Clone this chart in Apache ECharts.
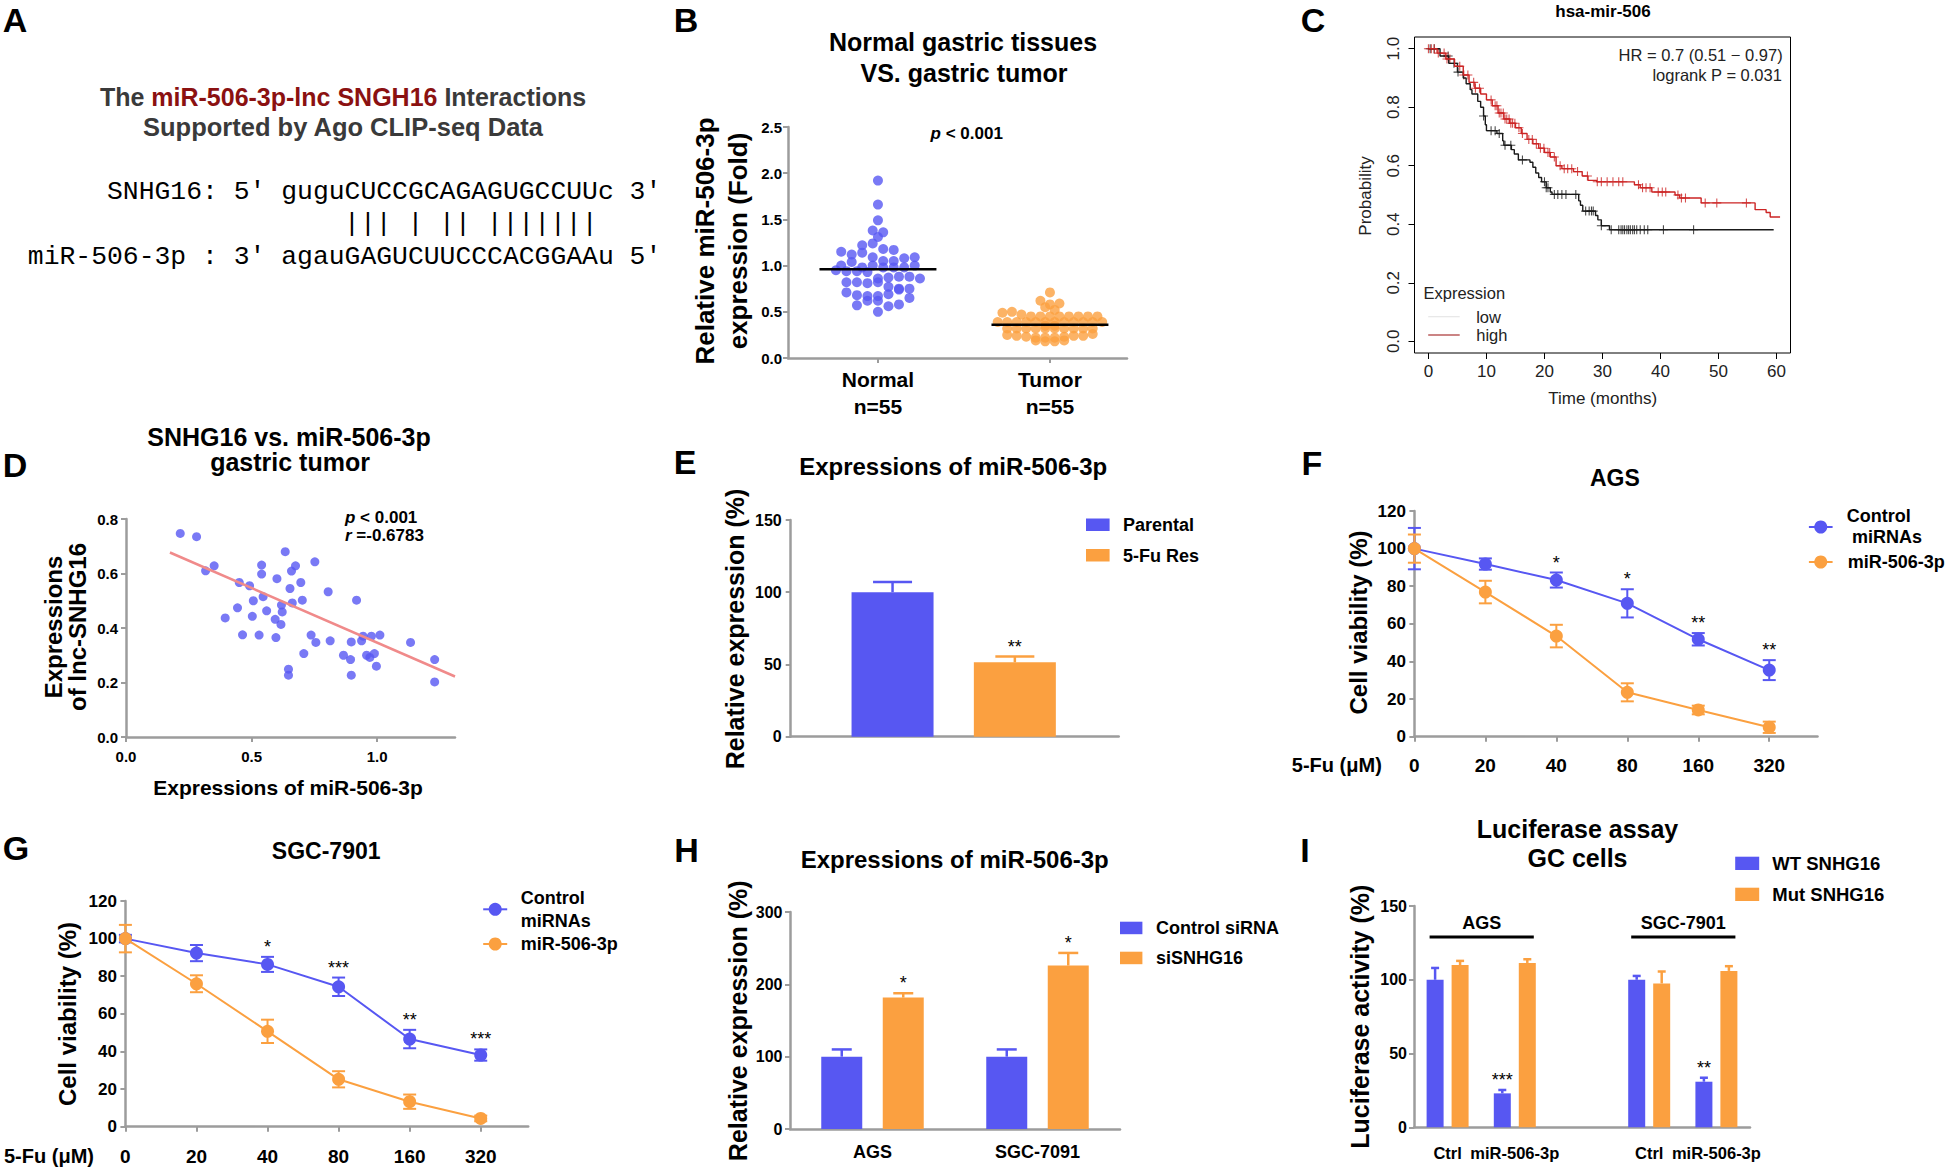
<!DOCTYPE html>
<html><head><meta charset="utf-8">
<script src="https://cdn.jsdelivr.net/npm/echarts@6/dist/echarts.min.js"></script>
<style>html,body{margin:0;padding:0;background:#fff}#c{width:1946px;height:1167px}</style>
</head><body><div id="c"></div>
<script>
// ---------------- DATA ----------------
// Panel B
const bCategories = ['Normal\nn=55', 'Tumor\nn=55'];
const bNormal = [1.92,1.66,1.49,1.38,1.36,1.31,1.22,1.24,1.18,1.15,1.12,1.14,1.17,1.09,1.05,1.05,1.08,1.09,1.00,1.04,
  0.98,1.00,0.98,0.98,0.98,1.00,0.95,0.94,0.94,0.93,0.86,0.82,0.82,0.87,0.88,0.88,0.81,0.82,0.86,
  0.71,0.68,0.67,0.77,0.75,0.75,0.67,0.69,0.74,0.57,0.62,0.62,0.65,0.56,0.58,0.50];
const bTumor = [0.71,0.62,0.58,0.55,0.59,0.52,0.49,0.50,0.47,
  0.45,0.45,0.45,0.45,0.45,0.45,0.45,0.45,
  0.39,0.39,0.39,0.39,0.39,0.39,0.39,0.39,0.39,0.39,0.39,0.39,
  0.32,0.32,0.32,0.32,0.32,0.32,0.32,0.32,0.32,0.32,
  0.25,0.24,0.23,0.22,0.22,0.22,0.23,0.24,0.24,0.26,
  0.19,0.18,0.18,0.19,0.35,0.35];
const bMeans = [0.96, 0.36];
// Panel C (Kaplan-Meier)
const cXTicks = [0,10,20,30,40,50,60];
const cYTicks = [0,0.2,0.4,0.6,0.8,1.0];
const cHighSteps = [[0,1.0],[1.5,0.985],[3,0.965],[4.5,0.94],[6,0.91],[7,0.885],[8,0.865],[9,0.845],[10,0.825],[11,0.805],
  [12,0.78],[13,0.76],[14,0.745],[15,0.73],[16,0.71],[17,0.69],[18,0.675],[19,0.66],[20,0.645],[21,0.63],[22,0.6],
  [23,0.59],[25,0.58],[26.5,0.565],[27.5,0.55],[29,0.545],[35.5,0.535],[36.5,0.525],[38.5,0.51],[42.5,0.5],[43.3,0.49],
  [47,0.473],[56.3,0.45],[58.2,0.44],[58.9,0.425],[60.6,0.425]];
const cLowSteps = [[0,1.0],[2,0.975],[3.5,0.95],[5,0.92],[6,0.9],[6.5,0.88],[7.2,0.86],[7.5,0.845],[8.5,0.82],[9,0.8],
  [9.5,0.77],[9.8,0.74],[10,0.72],[11.8,0.71],[12.8,0.685],[13,0.67],[14.3,0.655],[14.8,0.64],[15.5,0.62],[17.5,0.612],
  [18,0.595],[18.5,0.575],[19,0.56],[19.5,0.545],[20.3,0.525],[21,0.51],[21.3,0.502],[25.9,0.48],[26.2,0.465],[26.6,0.445],
  [28.8,0.43],[29.2,0.415],[29.8,0.395],[31.2,0.381],[59.5,0.381]];
const cHighCensor = [0,0.5,1.0,1.7,2.7,3.2,3.7,5.4,6.1,6.8,7.8,8.1,8.8,10.8,11.5,11.8,12.2,12.5,12.9,13.2,13.5,13.9,14.2,14.5,14.9,
  15.6,16.2,17.3,17.9,18.6,19.3,19.9,20.6,20.9,21.7,22.7,23.4,24.0,24.7,25.7,27.4,29.1,29.8,30.8,31.8,32.8,33.5,36.2,36.9,37.5,
  38.2,39.6,40.3,40.9,43.0,43.6,44.3,47.7,49.7,54.8];
const cLowCensor = [0.3,1.0,3.4,4.4,5.1,9.5,10.8,11.5,12.2,13.2,14.2,16.2,20.0,20.3,20.6,21.7,22.3,23.0,23.7,25.4,27.1,27.7,28.1,
  28.4,29.8,31.5,32.8,33.2,33.5,33.8,34.2,34.5,34.8,35.2,35.5,35.9,36.5,37.2,37.8,40.5,45.7];
// Panel D
const dXTicks = [0, 0.5, 1.0];
const dPoints = [[0.216,0.747],[0.281,0.735],[0.317,0.610],[0.351,0.628],[0.451,0.567],[0.492,0.555],[0.444,0.474],[0.395,0.437],
  [0.464,0.375],[0.503,0.443],[0.507,0.500],[0.540,0.631],[0.540,0.598],[0.546,0.515],[0.560,0.463],[0.530,0.374],[0.601,0.581],
  [0.594,0.432],[0.617,0.413],[0.597,0.365],[0.619,0.484],[0.622,0.459],[0.634,0.680],[0.653,0.545],[0.659,0.609],[0.675,0.628],
  [0.662,0.492],[0.647,0.249],[0.647,0.227],[0.696,0.567],[0.702,0.502],[0.752,0.643],[0.737,0.374],[0.756,0.347],[0.708,0.306],
  [0.805,0.533],[0.813,0.353],[0.866,0.300],[0.894,0.284],[0.897,0.349],[0.897,0.227],[0.918,0.502],[0.938,0.353],[0.944,0.370],
  [0.958,0.300],[0.971,0.292],[0.977,0.370],[1.011,0.374],[0.997,0.260],[1.133,0.347],[1.229,0.284],[1.229,0.202],[0.989,0.306]];
const dFitLine = [[0.175,0.677],[1.31,0.222]];
// Panel E
const eCategories = ['Parental','5-Fu Res'];
const eValues = [100, 51.5];
const eErrors = [7, 4];
const eStars = ['', '**'];
// Panels F, G
const doseLabels = ['0','20','40','80','160','320'];
const fControl = [100,91.8,83.3,70.9,51.8,35.4];
const fControlErr = [11,3,4,7.5,3.3,5.3];
const fMir = [100,76.9,53.5,23.6,14.2,5.0];
const fMirErr = [7.5,6,6,4.8,2.3,3];
const fStars = ['','','*','*','**','**'];
const gControl = [100,92.3,86.3,74.4,46.6,38.1];
const gControlErr = [2,4.3,4,4.9,4.9,3];
const gMir = [100,76.0,50.7,25.2,13.3,4.4];
const gMirErr = [7.3,4.5,6.2,4.3,3.8,1.5];
const gStars = ['','','*','***','**','***'];
// Panel H
const hCategories = ['AGS','SGC-7091'];
const hControl = [100,100];
const hControlErr = [10,10];
const hSi = [181.7,226];
const hSiErr = [6,17.4];
const hStars = ['*','*'];
// Panel I
const iCategories = ['Ctrl','miR-506-3p','','Ctrl','miR-506-3p'];
const iWT = [100,23,null,100,30.9];
const iWTErr = [8,2.3,null,2.6,2.7];
const iMut = [110,111.4,null,97.5,106];
const iMutErr = [2.8,2.5,null,8.1,3.2];
const iWTStars = ['','***','','','**'];
const iGroups = ['AGS','SGC-7901'];
const iGroupSpans = [[0,1],[3,4]];
const iGroupLevel = 129;

// ---------------- STYLE / HELPERS ----------------
const FONT = '"Liberation Sans", Arial, Helvetica, sans-serif';
const MONO = '"Liberation Mono", "DejaVu Sans Mono", monospace';
const BLUE = '#5757f2', ORANGE = '#fba040', AXIS = '#9c9c9c';
const PLUS = 'path://M0,4.4H10V5.6H0Z M4.4,0H5.6V10H4.4Z';

function T(x, y, text, o = {}) {
  const st = {
    text, fill: o.color || '#000', fontSize: o.size || 16, fontWeight: o.weight || 'bold',
    fontFamily: o.family || FONT, fontStyle: 'normal',
    align: o.align || 'center', verticalAlign: o.va || 'middle',
    textAlign: o.align || 'center', textVerticalAlign: o.va || 'middle'
  };
  if (o.lh) st.lineHeight = o.lh;
  if (o.rich) st.rich = o.rich;
  return { type: 'text', x, y, rotation: o.rot || 0, z: 100, style: st };
}
function R(x, y, w, h, c) { return { type: 'rect', shape: { x, y, width: w, height: h }, style: { fill: c }, z: 100 }; }
function LL(x1, x2, y, c) {
  return [{ type: 'line', shape: { x1, y1: y, x2, y2: y }, style: { stroke: c, lineWidth: 2 }, z: 100 },
          { type: 'circle', shape: { cx: (x1 + x2) / 2, cy: y, r: 6.5 }, style: { fill: c }, z: 101 }];
}
function survAt(steps, t) { let s = steps[0][1]; for (const p of steps) { if (p[0] <= t) s = p[1]; else break; } return s; }

// GraphPad-like column scatter: values binned into rows, spread horizontally around the column centre
function rowSwarm(values, center, pxX, binW, spacing) {
  const bins = new Map();
  values.forEach((v, i) => { const b = Math.round(v / binW); if (!bins.has(b)) bins.set(b, []); bins.get(b).push(i); });
  const res = new Array(values.length);
  for (const idxs of bins.values()) {
    const n = idxs.length;
    idxs.forEach((i, k) => { res[i] = [center + (k - (n - 1) / 2) * spacing / pxX, values[i]]; });
  }
  return res;
}

function errSeries(o) {
  const data = [];
  o.vals.forEach((v, i) => { if (v != null) data.push([i, v, o.errs[i], i]); });
  return {
    type: 'custom', xAxisIndex: o.ax, yAxisIndex: o.ax, z: o.z || 3, clip: false, data,
    encode: { x: 0, y: 1 },
    renderItem: (params, api) => {
      const x = api.value(0), v = api.value(1), e = api.value(2), i = api.value(3);
      const color = Array.isArray(o.color) ? o.color[i] : o.color;
      const p0 = api.coord([x, o.both ? v - e : v]);
      const p1 = api.coord([x, v + e]);
      const cx = p0[0] + (o.offset || 0);
      const lw = o.lw || 2.5, hw = o.capW / 2;
      const ch = [
        { type: 'line', shape: { x1: cx, y1: p0[1], x2: cx, y2: p1[1] }, style: { stroke: color, lineWidth: lw } },
        { type: 'line', shape: { x1: cx - hw, y1: p1[1], x2: cx + hw, y2: p1[1] }, style: { stroke: color, lineWidth: lw } }
      ];
      if (o.both) ch.push({ type: 'line', shape: { x1: cx - hw, y1: p0[1], x2: cx + hw, y2: p0[1] }, style: { stroke: color, lineWidth: lw } });
      if (o.stars && o.stars[i]) ch.push({ type: 'text', x: cx, y: p1[1] - 1,
        style: { text: o.stars[i], fill: '#000', fontSize: 18, fontFamily: FONT, align: 'center', verticalAlign: 'bottom', textAlign: 'center', textVerticalAlign: 'bottom' } });
      return { type: 'group', children: ch };
    }
  };
}

const axLine = { show: true, onZero: false, lineStyle: { color: AXIS, width: 2.5 } };
const axTick = { show: true, length: 5, lineStyle: { color: AXIS, width: 2 } };
const lbl = o => Object.assign({ color: '#000', fontWeight: 'bold', fontSize: 15, fontFamily: FONT }, o);
const noSplit = { show: false };
function yv(gi, min, max, interval, margin, fmt, size) {
  return { type: 'value', gridIndex: gi, min, max, interval, axisLine: axLine, axisTick: axTick,
    axisLabel: lbl({ margin, fontSize: size || 16, formatter: fmt }), splitLine: noSplit };
}
const f1 = v => v.toFixed(1);
const doseIdx = doseLabels.map((_, i) => i);

// ---------------- OPTION ----------------
const bPxX = 339 / (1.448 + 0.523);
const grids = [
  { left: 788, top: 127, width: 339, height: 231 },
  { left: 1414.5, top: 37, width: 376, height: 316, show: true, borderColor: '#000', borderWidth: 1 },
  { left: 126, top: 519, width: 329, height: 218 },
  { left: 790.7, top: 520, width: 328, height: 216.7 },
  { left: 831.4, top: 520, width: 244.6, height: 216.7 },
  { left: 1414.4, top: 511, width: 403.1, height: 225.7 },
  { left: 125.4, top: 901, width: 402.8, height: 225.7 },
  { left: 790, top: 912, width: 330, height: 217 },
  { left: 1414, top: 906, width: 336, height: 221.3 }
].map(g => Object.assign({ outerBoundsMode: 'none', containLabel: false }, g));

const xAxes = [
  { type: 'value', gridIndex: 0, min: -0.523, max: 1.448, axisLine: axLine,
    axisTick: Object.assign({}, axTick, { customValues: [0, 1] }),
    axisLabel: lbl({ customValues: [0, 1], fontSize: 21, lineHeight: 27, margin: 8, formatter: v => bCategories[Math.round(v)] }), splitLine: noSplit },
  { type: 'value', gridIndex: 1, min: -2.4, max: 62.4, axisLine: { show: false, onZero: false },
    axisTick: { show: true, length: 6, customValues: cXTicks, lineStyle: { color: '#000', width: 1 } },
    axisLabel: { customValues: cXTicks, color: '#222', fontSize: 17, fontFamily: FONT, margin: 10 }, splitLine: noSplit },
  { type: 'value', gridIndex: 2, min: 0, max: 1.31, axisLine: axLine,
    axisTick: Object.assign({}, axTick, { customValues: dXTicks }),
    axisLabel: lbl({ customValues: dXTicks, margin: 12, formatter: f1 }), splitLine: noSplit },
  { type: 'value', gridIndex: 3, min: 0, max: 1, axisLine: axLine, axisTick: { show: false }, axisLabel: { show: false }, splitLine: noSplit },
  { type: 'category', gridIndex: 4, data: eCategories, show: false },
  { type: 'value', gridIndex: 5, min: 0, max: 5.68, axisLine: axLine,
    axisTick: Object.assign({}, axTick, { customValues: doseIdx }),
    axisLabel: lbl({ customValues: doseIdx, fontSize: 19, margin: 19, formatter: v => doseLabels[Math.round(v)] }), splitLine: noSplit },
  { type: 'value', gridIndex: 6, min: 0, max: 5.668, axisLine: axLine,
    axisTick: Object.assign({}, axTick, { customValues: doseIdx }),
    axisLabel: lbl({ customValues: doseIdx, fontSize: 19, margin: 20, formatter: v => doseLabels[Math.round(v)] }), splitLine: noSplit },
  { type: 'category', gridIndex: 7, data: hCategories, axisLine: axLine, axisTick: { show: false },
    axisLabel: lbl({ fontSize: 18, margin: 13.5 }), splitLine: noSplit },
  { type: 'category', gridIndex: 8, data: iCategories, axisLine: axLine, axisTick: { show: false },
    axisLabel: lbl({ fontSize: 16.5, margin: 17, interval: 0, hideOverlap: false }), splitLine: noSplit }
];
const yAxes = [
  yv(0, 0, 2.5, 0.5, 6, f1, 15),
  { type: 'value', gridIndex: 1, min: -0.04, max: 1.04, axisLine: { show: false, onZero: false },
    axisTick: { show: true, length: 6, customValues: cYTicks, lineStyle: { color: '#000', width: 1 } },
    axisLabel: { customValues: cYTicks, rotate: 90, color: '#222', fontSize: 17, fontFamily: FONT, margin: 13, formatter: f1 }, splitLine: noSplit },
  yv(2, 0, 0.8, 0.2, 8, f1, 15),
  yv(3, 0, 150, 50, 9),
  { type: 'value', gridIndex: 4, min: 0, max: 150, show: false },
  yv(5, 0, 120, 20, 8.5, undefined, 17),
  yv(6, 0, 120, 20, 8.5, undefined, 17),
  yv(7, 0, 300, 100, 7.5),
  yv(8, 0, 150, 50, 7)
];

const meanHalf = 0.34;
const series = [
  // B
  { type: 'scatter', xAxisIndex: 0, yAxisIndex: 0, data: rowSwarm(bNormal, 0, bPxX, 0.1, 10.5), symbolSize: 10, itemStyle: { color: BLUE }, z: 2 },
  { type: 'scatter', xAxisIndex: 0, yAxisIndex: 0, data: rowSwarm(bTumor, 1, bPxX, 0.06, 9.5), symbolSize: 10, itemStyle: { color: ORANGE }, z: 2 },
  ...bMeans.map((m, k) => ({ type: 'line', xAxisIndex: 0, yAxisIndex: 0, symbol: 'none', z: 5,
    data: [[k - meanHalf, m], [k + meanHalf, m]], lineStyle: { color: '#000', width: 2.5 } })),
  // C
  { type: 'line', xAxisIndex: 1, yAxisIndex: 1, data: cLowSteps, step: 'end', symbol: 'none', lineStyle: { color: '#1a1a1a', width: 1.4 } },
  { type: 'line', xAxisIndex: 1, yAxisIndex: 1, data: cHighSteps, step: 'end', symbol: 'none', lineStyle: { color: '#cc2424', width: 1.4 } },
  { type: 'scatter', xAxisIndex: 1, yAxisIndex: 1, data: cLowCensor.map(t => [t, survAt(cLowSteps, t)]), symbol: PLUS, symbolSize: 9, itemStyle: { color: '#1a1a1a' } },
  { type: 'scatter', xAxisIndex: 1, yAxisIndex: 1, data: cHighCensor.map(t => [t, survAt(cHighSteps, t)]), symbol: PLUS, symbolSize: 9, itemStyle: { color: '#cc2424' } },
  // D
  { type: 'scatter', xAxisIndex: 2, yAxisIndex: 2, data: dPoints, symbolSize: 9, itemStyle: { color: BLUE } },
  { type: 'line', xAxisIndex: 2, yAxisIndex: 2, data: dFitLine, symbol: 'none', lineStyle: { color: '#f08a8a', width: 2.5 }, z: 4 },
  // E
  { type: 'bar', name: eCategories[0], xAxisIndex: 4, yAxisIndex: 4, data: [eValues[0], '-'], barWidth: 82, barGap: '-100%', itemStyle: { color: BLUE } },
  { type: 'bar', name: eCategories[1], xAxisIndex: 4, yAxisIndex: 4, data: ['-', eValues[1]], barWidth: 82, barGap: '-100%', itemStyle: { color: ORANGE } },
  errSeries({ ax: 4, vals: eValues, errs: eErrors, color: [BLUE, ORANGE], capW: 39, stars: eStars }),
  // F
  { type: 'line', xAxisIndex: 5, yAxisIndex: 5, data: fControl.map((v, i) => [i, v]), symbol: 'circle', symbolSize: 13, lineStyle: { color: BLUE, width: 2 }, itemStyle: { color: BLUE }, z: 4 },
  errSeries({ ax: 5, vals: fControl, errs: fControlErr, color: BLUE, capW: 13, both: true, lw: 2, stars: fStars, z: 3 }),
  { type: 'line', xAxisIndex: 5, yAxisIndex: 5, data: fMir.map((v, i) => [i, v]), symbol: 'circle', symbolSize: 13, lineStyle: { color: ORANGE, width: 2 }, itemStyle: { color: ORANGE }, z: 6 },
  errSeries({ ax: 5, vals: fMir, errs: fMirErr, color: ORANGE, capW: 13, both: true, lw: 2, z: 5 }),
  // G
  { type: 'line', xAxisIndex: 6, yAxisIndex: 6, data: gControl.map((v, i) => [i, v]), symbol: 'circle', symbolSize: 13, lineStyle: { color: BLUE, width: 2 }, itemStyle: { color: BLUE }, z: 4 },
  errSeries({ ax: 6, vals: gControl, errs: gControlErr, color: BLUE, capW: 13, both: true, lw: 2, stars: gStars, z: 3 }),
  { type: 'line', xAxisIndex: 6, yAxisIndex: 6, data: gMir.map((v, i) => [i, v]), symbol: 'circle', symbolSize: 13, lineStyle: { color: ORANGE, width: 2 }, itemStyle: { color: ORANGE }, z: 6 },
  errSeries({ ax: 6, vals: gMir, errs: gMirErr, color: ORANGE, capW: 13, both: true, lw: 2, z: 5 }),
  // H
  { type: 'bar', name: 'Control siRNA', xAxisIndex: 7, yAxisIndex: 7, data: hControl, barWidth: 41, barGap: '50%', itemStyle: { color: BLUE } },
  { type: 'bar', name: 'siSNHG16', xAxisIndex: 7, yAxisIndex: 7, data: hSi, barWidth: 41, barGap: '50%', itemStyle: { color: ORANGE } },
  errSeries({ ax: 7, vals: hControl, errs: hControlErr, color: BLUE, capW: 20, offset: -30.75 }),
  errSeries({ ax: 7, vals: hSi, errs: hSiErr, color: ORANGE, capW: 20, offset: 30.75, stars: hStars }),
  // I
  { type: 'bar', name: 'WT SNHG16', xAxisIndex: 8, yAxisIndex: 8, data: iWT.map(v => v == null ? '-' : v), barWidth: 17, barGap: '47%', itemStyle: { color: BLUE } },
  { type: 'bar', name: 'Mut SNHG16', xAxisIndex: 8, yAxisIndex: 8, data: iMut.map(v => v == null ? '-' : v), barWidth: 17, barGap: '47%', itemStyle: { color: ORANGE } },
  errSeries({ ax: 8, vals: iWT, errs: iWTErr, color: BLUE, capW: 8, offset: -12.5, lw: 2.5, stars: iWTStars }),
  errSeries({ ax: 8, vals: iMut, errs: iMutErr, color: ORANGE, capW: 8, offset: 12.5, lw: 2.5 }),
  { type: 'custom', xAxisIndex: 8, yAxisIndex: 8, clip: false, encode: { x: 0, y: 2 },
    data: iGroupSpans.map((s, k) => [s[0], s[1], iGroupLevel, k]),
    renderItem: (params, api) => {
      const a = api.coord([api.value(0), api.value(2)]), b = api.coord([api.value(1), api.value(2)]);
      const x1 = a[0] - 18, x2 = b[0] + 19;
      return { type: 'group', children: [
        { type: 'line', shape: { x1, y1: a[1], x2, y2: a[1] }, style: { stroke: '#000', lineWidth: 3 } },
        { type: 'text', x: (x1 + x2) / 2, y: a[1] - 14, style: { text: iGroups[api.value(3)], fill: '#000', fontSize: 18, fontWeight: 'bold', fontFamily: FONT,
          align: 'center', verticalAlign: 'middle', textAlign: 'center', textVerticalAlign: 'middle' } }
      ] };
    } }
];

const PI2 = Math.PI / 2;
const richI = { i: { fontStyle: 'italic', fontWeight: 'bold', fontSize: 17, fontFamily: FONT } };
const graphics = [
  // panel letters
  T(15, 20, 'A', { size: 34 }), T(686, 20, 'B', { size: 34 }), T(1313, 20, 'C', { size: 34 }),
  T(15, 465, 'D', { size: 34 }), T(685, 462, 'E', { size: 34 }), T(1312, 463, 'F', { size: 34 }),
  T(16, 848, 'G', { size: 34 }), T(686.5, 850, 'H', { size: 34 }), T(1305, 850, 'I', { size: 34 }),
  // A
  T(343, 96.7, '{d|The }{r|miR-506-3p-lnc SNGH16}{d| Interactions}', { size: 25, color: '#3a3a3a',
    rich: { d: { fill: '#3a3a3a', fontSize: 25, fontWeight: 'bold', fontFamily: FONT }, r: { fill: '#8b1111', fontSize: 25, fontWeight: 'bold', fontFamily: FONT } } }),
  T(343, 126.7, 'Supported by Ago CLIP-seq Data', { size: 25.5, color: '#3a3a3a' }),
  T(661.3, 191.7, "SNHG16: 5' guguCUCCGCAGAGUGCCUUc 3'", { align: 'right', family: MONO, weight: 'normal', size: 26.4 }),
  T(344.1, 224, '||| | || |||||||', { align: 'left', family: MONO, weight: 'normal', size: 26.4 }),
  T(661.3, 256.7, "miR-506-3p : 3' agauGAGUCUUCCCACGGAAu 5'", { align: 'right', family: MONO, weight: 'normal', size: 26.4 }),
  // B
  T(963, 41.7, 'Normal gastric tissues', { size: 25 }),
  T(964, 73.3, 'VS. gastric tumor', { size: 25 }),
  T(966.7, 133, '{i|p} < 0.001', { size: 17, rich: richI }),
  T(721.5, 241, 'Relative miR-506-3p\nexpression (Fold)', { size: 26, lh: 33, rot: PI2 }),
  // C
  T(1603, 11, 'hsa-mir-506', { size: 17 }),
  T(1782.7, 55, 'HR = 0.7 (0.51 \u2212 0.97)', { size: 16.5, weight: 'normal', align: 'right', color: '#222' }),
  T(1781.9, 75, 'logrank P = 0.031', { size: 16.5, weight: 'normal', align: 'right', color: '#222' }),
  T(1365.4, 196, 'Probability', { size: 17, weight: 'normal', rot: PI2, color: '#222' }),
  T(1602.7, 398.3, 'Time (months)', { size: 17, weight: 'normal', color: '#222' }),
  T(1423.5, 293.3, 'Expression', { size: 16.5, weight: 'normal', align: 'left', color: '#222' }),
  T(1476.2, 316.7, 'low', { size: 16.5, weight: 'normal', align: 'left', color: '#222' }),
  T(1476.2, 335, 'high', { size: 16.5, weight: 'normal', align: 'left', color: '#222' }),
  { type: 'line', shape: { x1: 1428.2, y1: 316.7, x2: 1459.7, y2: 316.7 }, style: { stroke: '#e6e6e6', lineWidth: 1.2 }, z: 100 },
  { type: 'line', shape: { x1: 1428.2, y1: 335, x2: 1459.7, y2: 335 }, style: { stroke: '#a83232', lineWidth: 1.2 }, z: 100 },
  // D
  T(289, 436.7, 'SNHG16 vs. miR-506-3p', { size: 25 }),
  T(290, 462, 'gastric tumor', { size: 25 }),
  T(65, 627, 'Expressions\nof lnc-SNHG16', { size: 24, lh: 24, rot: PI2 }),
  T(288, 787, 'Expressions of miR-506-3p', { size: 21 }),
  T(345, 517, '{i|p} < 0.001', { size: 17, align: 'left', rich: richI }),
  T(345, 535, '{i|r} =-0.6783', { size: 17, align: 'left', rich: richI }),
  // E
  T(953.2, 466, 'Expressions of miR-506-3p', { size: 24 }),
  T(735.4, 629, 'Relative expression (%)', { size: 25, rot: PI2 }),
  R(1086, 518.5, 23.6, 12.5, BLUE), R(1086, 549, 23.6, 12.5, ORANGE),
  T(1122.9, 525, eCategories[0], { size: 18, align: 'left' }),
  T(1122.9, 555.5, eCategories[1], { size: 18, align: 'left' }),
  // F
  T(1614.9, 478, 'AGS', { size: 23 }),
  T(1358.4, 622.5, 'Cell viability (%)', { size: 24, rot: PI2 }),
  T(1336.8, 765, '5-Fu (\u03bcM)', { size: 20 }),
  ...LL(1808.9, 1832.6, 527, BLUE), ...LL(1808.9, 1832.6, 562, ORANGE),
  T(1846.8, 516, 'Control', { size: 18, align: 'left' }),
  T(1852, 537, 'miRNAs', { size: 18, align: 'left' }),
  T(1847.7, 562, 'miR-506-3p', { size: 18, align: 'left' }),
  // G
  T(326.2, 850.7, 'SGC-7901', { size: 23 }),
  T(67.3, 1014, 'Cell viability (%)', { size: 24, rot: PI2 }),
  T(49, 1156, '5-Fu (\u03bcM)', { size: 20 }),
  ...LL(483.2, 507.2, 909.3, BLUE), ...LL(483.2, 507.2, 944, ORANGE),
  T(520.7, 898.3, 'Control', { size: 18, align: 'left' }),
  T(520.7, 920.7, 'miRNAs', { size: 18, align: 'left' }),
  T(520.7, 944, 'miR-506-3p', { size: 18, align: 'left' }),
  // H
  T(954.7, 859.3, 'Expressions of miR-506-3p', { size: 24 }),
  T(737.6, 1020.8, 'Relative expression (%)', { size: 25, rot: PI2 }),
  R(1120, 921.7, 22.4, 12.5, BLUE), R(1120, 951.7, 22.4, 12.5, ORANGE),
  T(1155.9, 928, 'Control siRNA', { size: 18, align: 'left' }),
  T(1155.9, 958, 'siSNHG16', { size: 18, align: 'left' }),
  // I
  T(1577.5, 829.2, 'Luciferase assay', { size: 25 }),
  T(1577.5, 858.3, 'GC cells', { size: 25 }),
  T(1360, 1016.7, 'Luciferase activity (%)', { size: 25, rot: PI2 }),
  R(1735.2, 856.7, 24, 13.3, BLUE), R(1735.2, 887.7, 24, 13.3, ORANGE),
  T(1772.3, 863.3, 'WT SNHG16', { size: 18.5, align: 'left' }),
  T(1772.3, 894.3, 'Mut SNHG16', { size: 18.5, align: 'left' })
];

const chart = echarts.init(document.getElementById('c'), null, { renderer: 'svg', width: 1946, height: 1167 });
chart.setOption({
  animation: false,
  backgroundColor: '#fff',
  grid: grids, xAxis: xAxes, yAxis: yAxes, series,
  graphic: { elements: graphics }
});
</script></body></html>
